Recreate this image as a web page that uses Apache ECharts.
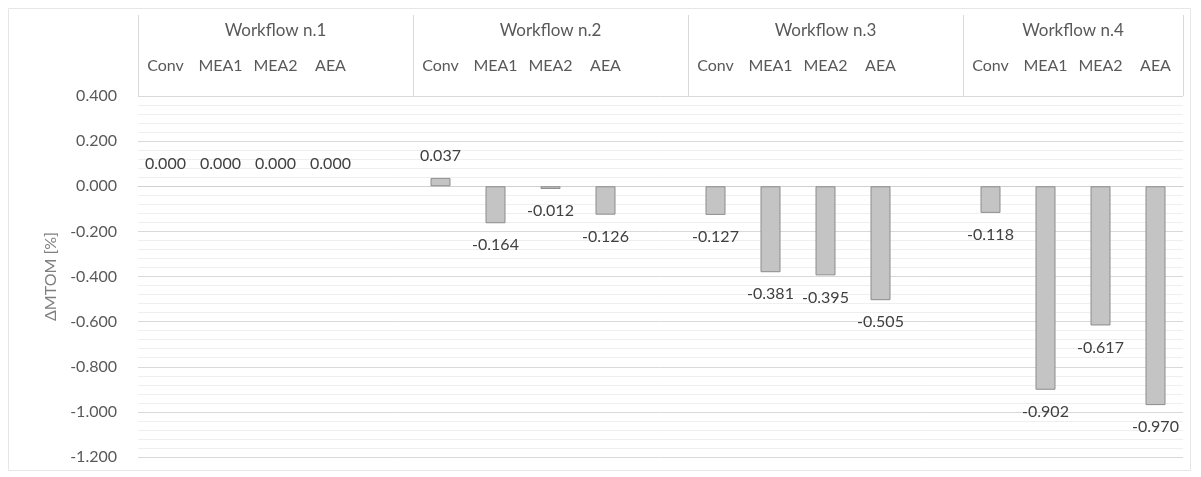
<!DOCTYPE html>
<html>
<head>
<meta charset="utf-8">
<script src="https://cdn.jsdelivr.net/npm/echarts@6/dist/echarts.min.js"></script>
<style>
  html, body { margin: 0; padding: 0; background: #fff; }
  #main { width: 1201px; height: 477px; }
</style>
</head>
<body>
<div id="main"></div>
<script>
var workflows = ['Workflow n.1', 'Workflow n.2', 'Workflow n.3', 'Workflow n.4'];
var methods = ['Conv', 'MEA1', 'MEA2', 'AEA'];
var wf1 = [0.000, 0.000, 0.000, 0.000];
var wf2 = [0.037, -0.164, -0.012, -0.126];
var wf3 = [-0.127, -0.381, -0.395, -0.505];
var wf4 = [-0.118, -0.902, -0.617, -0.970];
var yTicks = { min: -1.2, max: 0.4, step: 0.2 };

// one empty slot is left between the workflow groups, like in the sheet
var groups = [wf1, wf2, wf3, wf4];
var categories = [];
var values = [];
var groupEdges = [0];
var groupCenters = [];
groups.forEach(function (g, i) {
  if (i > 0) { categories.push(''); values.push(null); }
  var start = categories.length;
  categories = categories.concat(methods);
  values = values.concat(g);
  var end = i < groups.length - 1 ? categories.length + 1 : categories.length;
  groupEdges.push(end);
  groupCenters.push((start + end) / 2);
});
var nSlots = categories.length;

var barData = values.map(function (v) {
  if (v === null) return null;
  return {
    value: v,
    label: { position: v < 0 ? 'bottom' : 'top' },
    itemStyle: v === 0 ? { borderWidth: 0 } : {}
  };
});

var font = 'Lato, "Open Sans", sans-serif';
var chart = echarts.init(document.getElementById('main'));
var option = {
  backgroundColor: '#fff',
  animation: false,
  graphic: [{
    type: 'rect',
    shape: { x: 8.5, y: 8.5, width: 1182, height: 462 },
    style: { fill: 'none', stroke: '#e6e6e6', lineWidth: 1 },
    silent: true
  }],
  grid: { left: 138, right: 18, top: 96, bottom: 20 },
  xAxis: [
    {
      type: 'category',
      position: 'top',
      data: categories,
      axisLine: { show: true, lineStyle: { color: '#d0d0d0', width: 1 } },
      axisTick: { show: false },
      axisLabel: {
        interval: 0, margin: 22, color: '#595959', fontSize: 16, fontFamily: font
      },
      splitLine: { show: false }
    },
    {
      type: 'value',
      position: 'top',
      min: 0,
      max: nSlots,
      axisLine: { show: false },
      axisTick: {
        show: true, length: 81, customValues: groupEdges,
        lineStyle: { color: '#d9d9d9' }
      },
      axisLabel: {
        margin: 57, color: '#595959', fontSize: 17, fontFamily: font,
        customValues: groupCenters,
        formatter: function (v) {
          var i = groupCenters.indexOf(v);
          return i >= 0 ? workflows[i] : '';
        }
      },
      splitLine: { show: false }
    }
  ],
  yAxis: {
    type: 'value',
    min: yTicks.min,
    max: yTicks.max,
    interval: yTicks.step,
    name: 'ΔMTOM [%]',
    nameLocation: 'middle',
    nameGap: 77,
    nameTextStyle: { color: '#7f7f7f', fontSize: 16, fontFamily: font },
    axisLine: { show: false },
    axisTick: { show: false },
    axisLabel: {
      margin: 21, color: '#595959', fontSize: 16, fontFamily: font,
      formatter: function (v) { return v.toFixed(3); }
    },
    splitLine: { show: true, lineStyle: { color: '#d9d9d9', width: 1 } },
    minorTick: { show: false, splitNumber: 5 },
    minorSplitLine: { show: true, lineStyle: { color: '#efefef', width: 1 } }
  },
  series: [{
    type: 'bar',
    xAxisIndex: 0,
    data: barData,
    barWidth: 20,
    itemStyle: { color: '#c4c4c4', borderColor: '#8c8c8c', borderWidth: 1 },
    label: {
      show: true,
      distance: 14,
      color: '#404040',
      fontSize: 16,
      fontFamily: font,
      formatter: function (p) { return p.value.toFixed(3); }
    }
  }]
};
chart.setOption(option);
window.addEventListener('resize', function () { chart.resize(); });
</script>
</body>
</html>
